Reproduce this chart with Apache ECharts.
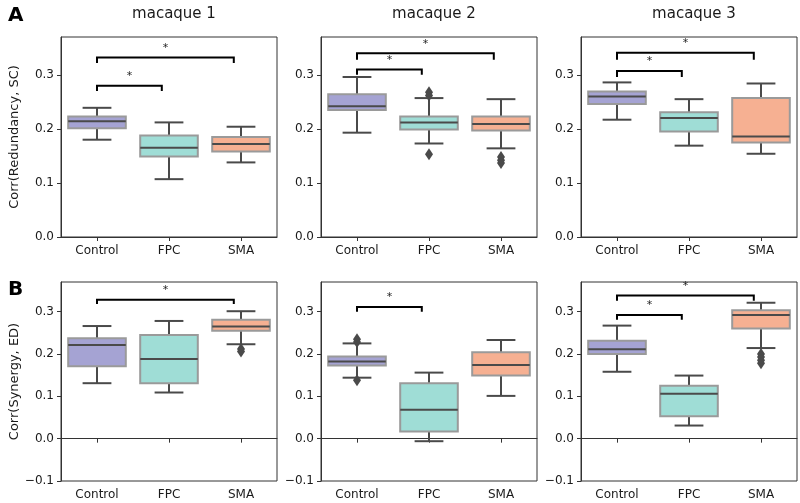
<!DOCTYPE html>
<html><head><meta charset="utf-8">
<script src="https://cdn.jsdelivr.net/npm/echarts@6/dist/echarts.min.js"></script>
<style>html,body{margin:0;padding:0;background:#fff}#main{width:800px;height:503px}</style>
</head><body><div id="main"></div>
<script>
const categories = ['Control', 'FPC', 'SMA'];
const panelTitles = ['macaque 1', 'macaque 2', 'macaque 3'];
const rowLabels = ['A', 'B'];
const yAxisNames = ['Corr(Redundancy, SC)', 'Corr(Synergy, ED)'];
const rowYMin = [0, -0.1];
const rowYMax = [0.37, 0.37];
const rowYTicks = [[0, 0.1, 0.2, 0.3], [-0.1, 0, 0.1, 0.2, 0.3]];

// [lower whisker, Q1, median, Q3, upper whisker] for Control, FPC, SMA
const boxA1 = [[0.180, 0.201, 0.214, 0.223, 0.239], [0.107, 0.149, 0.165, 0.188, 0.212], [0.138, 0.158, 0.172, 0.185, 0.204]];
const boxA2 = [[0.193, 0.235, 0.242, 0.264, 0.296], [0.173, 0.199, 0.212, 0.223, 0.257], [0.164, 0.197, 0.209, 0.223, 0.255]];
const boxA3 = [[0.217, 0.246, 0.260, 0.269, 0.286], [0.169, 0.195, 0.220, 0.231, 0.255], [0.154, 0.175, 0.186, 0.257, 0.284]];
const boxB1 = [[0.131, 0.171, 0.221, 0.237, 0.266], [0.109, 0.131, 0.188, 0.245, 0.278], [0.223, 0.255, 0.265, 0.281, 0.301]];
const boxB2 = [[0.144, 0.173, 0.182, 0.194, 0.225], [-0.006, 0.017, 0.068, 0.131, 0.156], [0.101, 0.149, 0.174, 0.204, 0.233]];
const boxB3 = [[0.158, 0.200, 0.211, 0.231, 0.267], [0.031, 0.053, 0.106, 0.125, 0.149], [0.214, 0.260, 0.292, 0.303, 0.321]];

// outliers: [category index, value]
const outA1 = [];
const outA2 = [[1, 0.268], [1, 0.262], [1, 0.153], [2, 0.148], [2, 0.142], [2, 0.137]];
const outA3 = [];
const outB1 = [[2, 0.212], [2, 0.206]];
const outB2 = [[0, 0.235], [0, 0.228], [0, 0.138]];
const outB3 = [[2, 0.200], [2, 0.193], [2, 0.185], [2, 0.178]];

// significance brackets: [from category, to category, bracket level, tick end level]
const sigA1 = [[0, 1, 0.280, 0.270], [0, 2, 0.332, 0.322]];
const sigA2 = [[0, 1, 0.310, 0.300], [0, 2, 0.340, 0.328]];
const sigA3 = [[0, 1, 0.307, 0.296], [0, 2, 0.341, 0.328]];
const sigB1 = [[0, 2, 0.328, 0.318]];
const sigB2 = [[0, 1, 0.311, 0.300]];
const sigB3 = [[0, 1, 0.292, 0.281], [0, 2, 0.338, 0.326]];

const boxes = [[boxA1, boxA2, boxA3], [boxB1, boxB2, boxB3]];
const outliers = [[outA1, outA2, outA3], [outB1, outB2, outB3]];
const sigs = [[sigA1, sigA2, sigA3], [sigB1, sigB2, sigB3]];

// styling
const fillColors = ['#a5a3d3', '#9fddd6', '#f6b092'];
const FONT = 'DejaVu Sans';
const gridLeft = [61, 321, 581];
const gridTop = [37, 282];
const gridHeight = [200, 199];
const gridWidth = 216;
const dark = '#4a4a4a';
const spine = '#333';

const grids = [], xAxes = [], yAxes = [], series = [], titles = [];
panelTitles.forEach((t, c) => {
  titles.push({ text: t, left: gridLeft[c] + gridWidth / 2, top: 2, textAlign: 'center',
    textStyle: { fontFamily: FONT, fontSize: 15, fontWeight: 'normal', color: '#1a1a1a' } });
});
rowLabels.forEach((t, r) => {
  titles.push({ text: t, left: 3, top: r === 0 ? 1 : 275,
    textStyle: { fontFamily: FONT, fontSize: 20, fontWeight: 'bold', color: '#000' } });
});

function fmt(v) { return (Math.round(v * 10) / 10).toFixed(1).replace('-', '\u2212'); }

for (let r = 0; r < 2; r++) {
  for (let c = 0; c < 3; c++) {
    const gi = r * 3 + c;
    grids.push({ left: gridLeft[c], top: gridTop[r], width: gridWidth, height: gridHeight[r],
      show: true, borderColor: spine, borderWidth: 1, backgroundColor: 'transparent' });
    xAxes.push({ type: 'category', gridIndex: gi, data: categories, boundaryGap: true,
      axisLine: { show: true, lineStyle: { color: spine, width: 1 } },
      axisTick: { show: true, alignWithLabel: true, length: 4, lineStyle: { color: spine } },
      axisLabel: { fontFamily: FONT, fontSize: 12, color: '#1a1a1a', margin: 8 },
      splitLine: { show: false } });
    yAxes.push({ type: 'value', gridIndex: gi, min: rowYMin[r], max: rowYMax[r],
      name: c === 0 ? yAxisNames[r] : '', nameLocation: 'middle', nameGap: 40,
      nameTextStyle: { fontFamily: FONT, fontSize: 13, color: '#1a1a1a' },
      axisLine: { show: true, lineStyle: { color: spine, width: 1 } },
      axisTick: { show: true, length: 4, customValues: rowYTicks[r], lineStyle: { color: spine } },
      axisLabel: { fontFamily: FONT, fontSize: 12, color: '#1a1a1a', margin: 7,
        customValues: rowYTicks[r], formatter: fmt },
      splitLine: { show: false } });

    series.push({
      type: 'custom', xAxisIndex: gi, yAxisIndex: gi,
      encode: { x: 0, y: [1, 2, 3, 4, 5] },
      data: boxes[r][c].map((b, i) => [i].concat(b)),
      renderItem: function (params, api) {
        const ci = api.value(0);
        const band = api.size([1, 0])[0];
        const bw = band * 0.8, cw = bw / 2;
        const x = api.coord([ci, 0])[0];
        const yLo = api.coord([ci, api.value(1)])[1];
        const yQ1 = api.coord([ci, api.value(2)])[1];
        const yMed = api.coord([ci, api.value(3)])[1];
        const yQ3 = api.coord([ci, api.value(4)])[1];
        const yHi = api.coord([ci, api.value(5)])[1];
        const ls = { stroke: dark, lineWidth: 2, fill: null };
        return { type: 'group', children: [
          { type: 'line', shape: { x1: x, y1: yQ3, x2: x, y2: yHi }, style: ls },
          { type: 'line', shape: { x1: x, y1: yQ1, x2: x, y2: yLo }, style: ls },
          { type: 'line', shape: { x1: x - cw / 2, y1: yHi, x2: x + cw / 2, y2: yHi }, style: ls },
          { type: 'line', shape: { x1: x - cw / 2, y1: yLo, x2: x + cw / 2, y2: yLo }, style: ls },
          { type: 'rect', shape: { x: x - bw / 2, y: yQ3, width: bw, height: yQ1 - yQ3 },
            style: { fill: fillColors[ci], stroke: '#9a9a9a', lineWidth: 2 } },
          { type: 'line', shape: { x1: x - bw / 2, y1: yMed, x2: x + bw / 2, y2: yMed }, style: ls }
        ] };
      }
    });

    series.push({
      type: 'scatter', xAxisIndex: gi, yAxisIndex: gi,
      data: outliers[r][c], symbol: 'diamond', symbolSize: [8, 12],
      itemStyle: { color: dark, opacity: 1 }, z: 3
    });

    series.push({
      type: 'custom', xAxisIndex: gi, yAxisIndex: gi,
      encode: { x: [0, 1], y: [2, 3] },
      data: sigs[r][c],
      z: 4,
      renderItem: function (params, api) {
        const band = api.size([1, 0])[0];
        const p1 = api.coord([api.value(0), api.value(2)]);
        const p2 = api.coord([api.value(1), api.value(2)]);
        const yEnd = api.coord([api.value(0), api.value(3)])[1];
        const x1 = p1[0], x2 = p2[0] - 0.1 * band, y = p1[1];
        return { type: 'group', children: [
          { type: 'polyline', shape: { points: [[x1, yEnd], [x1, y], [x2, y], [x2, yEnd]] },
            style: { stroke: '#000', lineWidth: 2, fill: null } },
          { type: 'text', x: (x1 + x2) / 2, y: y - 4,
            style: { text: '*', fontFamily: FONT, fontSize: 11, fill: '#222', align: 'center', verticalAlign: 'bottom' } }
        ] };
      }
    });
  }
}

const chart = echarts.init(document.getElementById('main'), null, { renderer: 'canvas' });
chart.setOption({
  animation: false,
  backgroundColor: '#fff',
  title: titles,
  grid: grids,
  xAxis: xAxes,
  yAxis: yAxes,
  series: series
});
</script>
</body></html>
